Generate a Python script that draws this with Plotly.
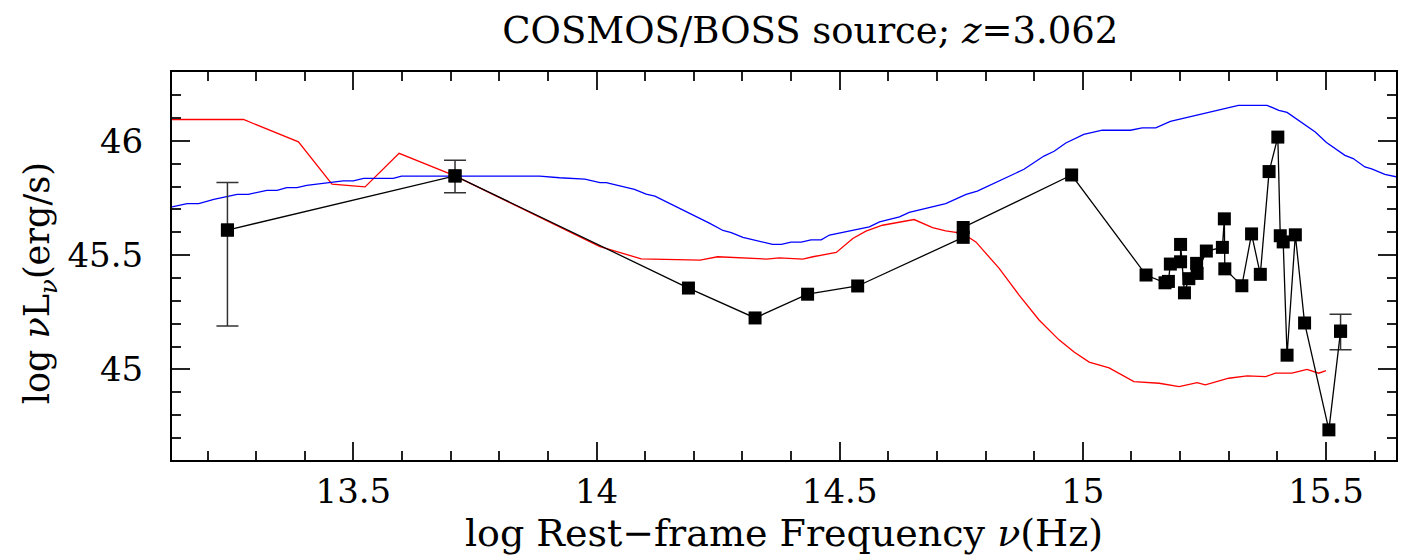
import plotly.graph_objects as go

# Observed photometry (log nu, log nuLnu)
obs_x = [13.241, 13.709, 14.189, 14.326, 14.434, 14.537, 14.754, 14.754, 14.977,
         15.130, 15.169, 15.176, 15.180, 15.201, 15.201, 15.209, 15.218, 15.234, 15.235,
         15.254, 15.287, 15.291, 15.292, 15.327, 15.347, 15.365, 15.383, 15.401, 15.406,
         15.412, 15.420, 15.437, 15.456, 15.506, 15.530]
obs_y = [45.610, 45.847, 45.356, 45.225, 45.329, 45.365, 45.578, 45.621, 45.851,
         45.413, 45.379, 45.385, 45.461, 45.471, 45.547, 45.335, 45.397, 45.464, 45.420,
         45.518, 45.534, 45.659, 45.440, 45.366, 45.593, 45.416, 45.866, 46.017, 45.585,
         45.558, 45.062, 45.589, 45.203, 44.735, 45.167]

# Points with error bars
err_x = [13.241, 13.709, 15.530]
err_y = [45.610, 45.847, 45.167]
err_up = [0.208, 0.069, 0.074]
err_dn = [0.420, 0.074, 0.081]

# Model 1 (red)
red_x = [13.127, 13.274, 13.387, 13.456, 13.524, 13.594, 13.709, 14.007, 14.092, 14.213,
         14.249, 14.349, 14.376, 14.424, 14.445, 14.493, 14.527, 14.554, 14.588, 14.653,
         14.691, 14.718, 14.753, 14.780, 14.828, 14.869, 14.910, 14.951, 14.982, 15.013,
         15.054, 15.105, 15.157, 15.198, 15.235, 15.252, 15.300, 15.338, 15.376, 15.396,
         15.430, 15.461, 15.485, 15.500]
red_y = [46.094, 46.094, 45.996, 45.811, 45.799, 45.946, 45.847, 45.537, 45.484, 45.478,
         45.493, 45.483, 45.488, 45.483, 45.493, 45.512, 45.573, 45.605, 45.631, 45.656,
         45.621, 45.606, 45.595, 45.558, 45.442, 45.325, 45.216, 45.129, 45.076, 45.032,
         45.006, 44.946, 44.939, 44.924, 44.942, 44.932, 44.961, 44.971, 44.968, 44.983,
         44.983, 45.000, 44.983, 44.994]

# Model 2 (blue)
blue_x = [13.127, 13.158, 13.182, 13.213, 13.261, 13.284, 13.322, 13.343, 13.363, 13.384,
          13.404, 13.445, 13.479, 13.500, 13.521, 13.582, 13.599, 13.709, 13.883, 13.924,
          13.976, 14.007, 14.020, 14.078, 14.102, 14.120, 14.144, 14.233, 14.260, 14.277,
          14.301, 14.362, 14.380, 14.400, 14.421, 14.441, 14.462, 14.479, 14.561, 14.582,
          14.623, 14.643, 14.718, 14.760, 14.783, 14.828, 14.879, 14.920, 14.941, 14.965,
          15.002, 15.040, 15.098, 15.122, 15.150, 15.180, 15.320, 15.379, 15.403, 15.420,
          15.478, 15.501, 15.539, 15.556, 15.580, 15.594, 15.621, 15.645]
blue_y = [45.711, 45.726, 45.726, 45.744, 45.766, 45.766, 45.784, 45.784, 45.796, 45.796,
          45.806, 45.816, 45.825, 45.825, 45.836, 45.836, 45.846, 45.846, 45.846, 45.839,
          45.833, 45.818, 45.818, 45.788, 45.767, 45.758, 45.733, 45.639, 45.608, 45.599,
          45.578, 45.547, 45.547, 45.557, 45.557, 45.567, 45.567, 45.588, 45.624, 45.646,
          45.668, 45.687, 45.726, 45.766, 45.780, 45.825, 45.876, 45.934, 45.955, 45.991,
          46.029, 46.047, 46.047, 46.057, 46.057, 46.086, 46.156, 46.156, 46.134, 46.125,
          46.039, 45.993, 45.937, 45.923, 45.886, 45.878, 45.854, 45.843]

FONT = "DejaVu Serif"

fig = go.Figure()
fig.add_trace(go.Scatter(x=red_x, y=red_y, mode="lines",
                         line=dict(color="#ff0000", width=1.3), showlegend=False))
fig.add_trace(go.Scatter(x=blue_x, y=blue_y, mode="lines",
                         line=dict(color="#0000ff", width=1.3), showlegend=False))
fig.add_trace(go.Scatter(
    x=err_x, y=err_y, mode="markers",
    marker=dict(symbol="square", size=13, color="black"),
    error_y=dict(type="data", symmetric=False, array=err_up, arrayminus=err_dn,
                 color="#333333", thickness=1.5, width=11),
    showlegend=False))
fig.add_trace(go.Scatter(
    x=obs_x, y=obs_y, mode="lines+markers",
    line=dict(color="black", width=1.3),
    marker=dict(symbol="square", size=13, color="black"),
    showlegend=False))

axis_common = dict(
    showgrid=False, zeroline=False, showline=True, linecolor="black", linewidth=2,
    mirror="ticks", ticks="inside", ticklen=18, tickwidth=1.5, tickcolor="#222222",
    tickfont=dict(family=FONT, size=34, color="black"),
    minor=dict(ticks="inside", ticklen=9, tickwidth=1.5, tickcolor="#222222", dtick=0.1, showgrid=False),
)

fig.update_xaxes(range=[13.127, 15.644], dtick=0.5, tick0=13.5,
                 ticklabelstandoff=0,
                 title=dict(text="log Rest\u2212frame Frequency <i>\u03bd</i>(Hz)",
                            font=dict(family=FONT, size=38, color="black"), standoff=2),
                 **axis_common)
fig.update_yaxes(range=[44.603, 46.302], dtick=0.5, tick0=45,
                 ticklabelstandoff=20,
                 **axis_common)

fig.update_layout(
    width=1408, height=558,
    margin=dict(l=172, r=10, t=72, b=98),
    paper_bgcolor="white", plot_bgcolor="white",
    title=dict(text="COSMOS/BOSS source; <i>z</i>=3.062",
               font=dict(family=FONT, size=37, color="black"),
               x=0.5215, xref="paper", xanchor="center",
               y=1 - 30 / 558, yref="container", yanchor="middle"),
    annotations=[dict(
        text="log <i>\u03bd</i>L<sub><i>\u03bd</i></sub>(erg/s)",
        font=dict(family=FONT, size=35, color="black"),
        textangle=-90, showarrow=False,
        xref="paper", yref="paper", x=-0.108, y=0.455,
        xanchor="center", yanchor="middle")],
)

fig.write_html("out.html")
